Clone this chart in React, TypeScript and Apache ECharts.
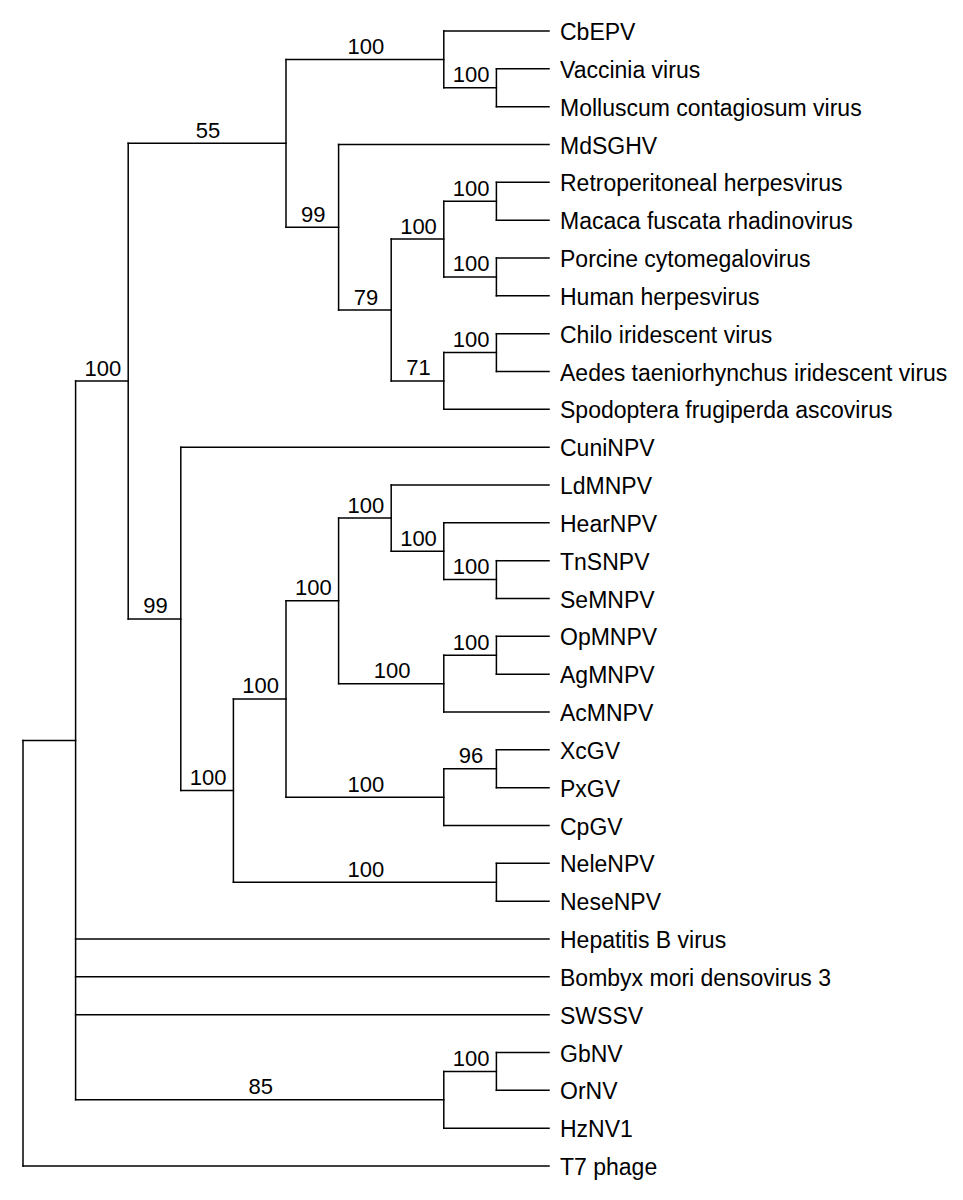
import React, { useEffect, useRef } from "react";
import * as echarts from "echarts";

// Leaves in display order (top to bottom)
const leafNames: string[] = [
  "CbEPV",
  "Vaccinia virus",
  "Molluscum contagiosum virus",
  "MdSGHV",
  "Retroperitoneal herpesvirus",
  "Macaca fuscata rhadinovirus",
  "Porcine cytomegalovirus",
  "Human herpesvirus",
  "Chilo iridescent virus",
  "Aedes taeniorhynchus iridescent virus",
  "Spodoptera frugiperda ascovirus",
  "CuniNPV",
  "LdMNPV",
  "HearNPV",
  "TnSNPV",
  "SeMNPV",
  "OpMNPV",
  "AgMNPV",
  "AcMNPV",
  "XcGV",
  "PxGV",
  "CpGV",
  "NeleNPV",
  "NeseNPV",
  "Hepatitis B virus",
  "Bombyx mori densovirus 3",
  "SWSSV",
  "GbNV",
  "OrNV",
  "HzNV1",
  "T7 phage",
];

// Internal clades: id, children (leaf names or clade ids), bootstrap support
const cladeIds: string[] = [
  "G", "E", "K", "L", "I", "M", "J", "H", "F", "C",
  "X", "W", "U", "Y", "V", "S", "Z", "T", "Q", "R", "P", "D", "B",
  "N100", "N85", "A", "root",
];
const cladeChildren: string[][] = [
  ["Vaccinia virus", "Molluscum contagiosum virus"],
  ["CbEPV", "G"],
  ["Retroperitoneal herpesvirus", "Macaca fuscata rhadinovirus"],
  ["Porcine cytomegalovirus", "Human herpesvirus"],
  ["K", "L"],
  ["Chilo iridescent virus", "Aedes taeniorhynchus iridescent virus"],
  ["M", "Spodoptera frugiperda ascovirus"],
  ["I", "J"],
  ["MdSGHV", "H"],
  ["E", "F"],
  ["TnSNPV", "SeMNPV"],
  ["HearNPV", "X"],
  ["LdMNPV", "W"],
  ["OpMNPV", "AgMNPV"],
  ["Y", "AcMNPV"],
  ["U", "V"],
  ["XcGV", "PxGV"],
  ["Z", "CpGV"],
  ["S", "T"],
  ["NeleNPV", "NeseNPV"],
  ["Q", "R"],
  ["CuniNPV", "P"],
  ["C", "D"],
  ["GbNV", "OrNV"],
  ["N100", "HzNV1"],
  ["B", "Hepatitis B virus", "Bombyx mori densovirus 3", "SWSSV", "N85"],
  ["A", "T7 phage"],
];
const cladeSupport: (number | null)[] = [
  100, 100, 100, 100, 100, 100, 71, 79, 99, 55,
  100, 100, 100, 100, 100, 100, 96, 100, 100, 100, 100, 99, 100,
  100, 85, 100, null,
];

type NodeInfo = { x: number; y: number; h: number };

function layoutTree() {
  const info: Record<string, NodeInfo> = {};
  leafNames.forEach((n, i) => (info[n] = { x: 0, y: i, h: 0 }));
  const childMap: Record<string, string[]> = {};
  cladeIds.forEach((id, i) => (childMap[id] = cladeChildren[i]));
  const visit = (id: string): NodeInfo => {
    if (info[id]) return info[id];
    const kids = childMap[id].map(visit);
    const h = 1 + Math.max(...kids.map((k) => k.h));
    const y = (kids[0].y + kids[kids.length - 1].y) / 2;
    info[id] = { x: 0, y, h };
    return info[id];
  };
  const root = visit("root");
  const maxH = root.h;
  Object.keys(info).forEach((k) => (info[k].x = maxH - info[k].h));
  return { info, maxH };
}

export default function App() {
  const ref = useRef<HTMLDivElement>(null);
  useEffect(() => {
    if (!ref.current) return;
    const chart = echarts.init(ref.current, undefined, { renderer: "svg" });
    const { info, maxH } = layoutTree();

    const segments: number[][] = [];
    const supportPts: number[][] = [];
    const supportTexts: string[] = [];
    cladeIds.forEach((id, i) => {
      const p = info[id];
      const kids = cladeChildren[i].map((c) => info[c]);
      segments.push([p.x, kids[0].y, p.x, kids[kids.length - 1].y]);
      cladeChildren[i].forEach((c) => {
        const k = info[c];
        segments.push([p.x, k.y, k.x, k.y]);
        const ci = cladeIds.indexOf(c);
        if (ci >= 0 && cladeSupport[ci] != null && id !== "root") {
          supportPts.push([(p.x + k.x) / 2, k.y]);
          supportTexts.push(String(cladeSupport[ci]));
        }
      });
    });
    const leafPts = leafNames.map((n) => [info[n].x, info[n].y]);

    const font = "Liberation Sans, Arial, Helvetica, sans-serif";

    chart.setOption({
      animation: false,
      backgroundColor: "#ffffff",
      grid: { left: 23, right: 414, top: 31, bottom: 34 },
      xAxis: { type: "value", min: 0, max: maxH, show: false },
      yAxis: { type: "value", min: 0, max: leafNames.length - 1, inverse: true, show: false },
      series: [
        {
          type: "custom",
          data: segments,
          renderItem: (params: any, api: any) => {
            const a = api.coord([api.value(0), api.value(1)]);
            const b = api.coord([api.value(2), api.value(3)]);
            return {
              type: "line",
              shape: { x1: a[0], y1: a[1], x2: b[0], y2: b[1] },
              style: { stroke: "#000", lineWidth: 1.5, lineCap: "square" },
            };
          },
        },
        {
          type: "custom",
          data: supportPts,
          renderItem: (params: any, api: any) => {
            const a = api.coord([api.value(0), api.value(1)]);
            return {
              type: "text",
              x: a[0] + 1,
              y: a[1] - 2,
              style: {
                text: supportTexts[params.dataIndex],
                fill: "#000",
                fontSize: 22,
                fontFamily: font,
                align: "center",
                verticalAlign: "bottom",
              },
            };
          },
        },
        {
          type: "custom",
          data: leafPts,
          renderItem: (params: any, api: any) => {
            const a = api.coord([api.value(0), api.value(1)]);
            return {
              type: "text",
              x: a[0] + 11,
              y: a[1] + 1,
              style: {
                text: leafNames[params.dataIndex],
                fill: "#000",
                fontSize: 23,
                fontFamily: font,
                align: "left",
                verticalAlign: "middle",
              },
            };
          },
        },
      ],
    });
    return () => chart.dispose();
  }, []);
  return (
    <div
      ref={ref}
      style={{ position: "fixed", left: 0, top: 0, width: 963, height: 1200, background: "#fff" }}
    />
  );
}
